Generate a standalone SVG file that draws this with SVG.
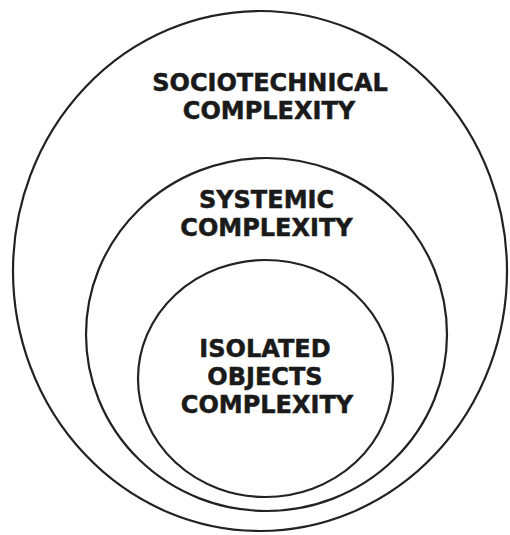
<svg xmlns="http://www.w3.org/2000/svg" width="510" height="535" viewBox="0 0 510 535">
<style>
.ring{fill:none;stroke:#222;stroke-width:2.2}
.lbl{font-family:"DejaVu Sans",Verdana,sans-serif;font-weight:bold;font-size:24px;fill:#1a1a1a;stroke:#1a1a1a;stroke-width:0.5;text-anchor:middle}
</style>
<rect width="510" height="535" fill="#fff"/>
<g id="sociotechnical">
<ellipse class="ring" cx="260" cy="271" rx="247" ry="260"/>
<text class="lbl" x="270" y="91">SOCIOTECHNICAL</text>
<text class="lbl" x="269" y="119">COMPLEXITY</text>
</g>
<g id="systemic">
<ellipse class="ring" cx="266.5" cy="334.5" rx="180.5" ry="176.5"/>
<text class="lbl" x="266.5" y="208">SYSTEMIC</text>
<text class="lbl" x="266.5" y="236">COMPLEXITY</text>
</g>
<g id="isolated">
<ellipse class="ring" cx="265.5" cy="378.5" rx="127.5" ry="118.5"/>
<text class="lbl" x="265" y="357">ISOLATED</text>
<text class="lbl" x="265" y="385">OBJECTS</text>
<text class="lbl" x="267" y="413">COMPLEXITY</text>
</g>
<g id="connectors"/>
</svg>
